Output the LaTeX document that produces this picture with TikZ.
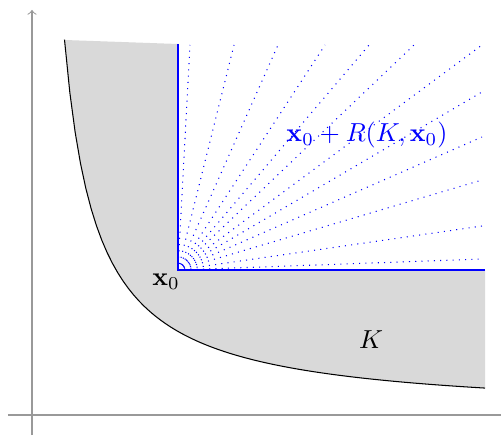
\documentclass[tikz,border=0pt]{standalone}
\begin{document}
\begin{tikzpicture}[x=0.0135cm,y=0.0135cm]
      \useasboundingbox (-32,-20) rectangle (469,415);
      \draw[gray!80,->] (0,-20) -- (0,405);
      \draw[gray!80] (-24,0) -- (469,0);
      \coordinate (x0) at (146,145);
      \fill[gray!30] (33,375) -- (146,371) -- (x0) -- (453,145) -- (453,27)
        -- plot[domain=453:32.5,samples=80] (\x,{12200/\x}) -- cycle;
      \draw[domain=32.5:453,samples=80] plot (\x,{12200/\x});
      \foreach \x in {158,202,246,293,337,382,450} {
        \draw[blue,dotted] (x0) -- (\x,370);
      }
      \foreach \y in {323,278,235,189,156} {
        \draw[blue,dotted] (x0) -- (450,\y);
      }
      \draw[blue] (146,371) -- (x0) -- (453,145);
      \node (x0lbl) at (134,133) {$\mathbf{x}_0$};
      \node[blue] (cone) at (335,280) {$\mathbf{x}_0 + R(K,\mathbf{x}_0)$};
      \node (setK) at (339,75) {$K$};
    \end{tikzpicture}
\end{document}
